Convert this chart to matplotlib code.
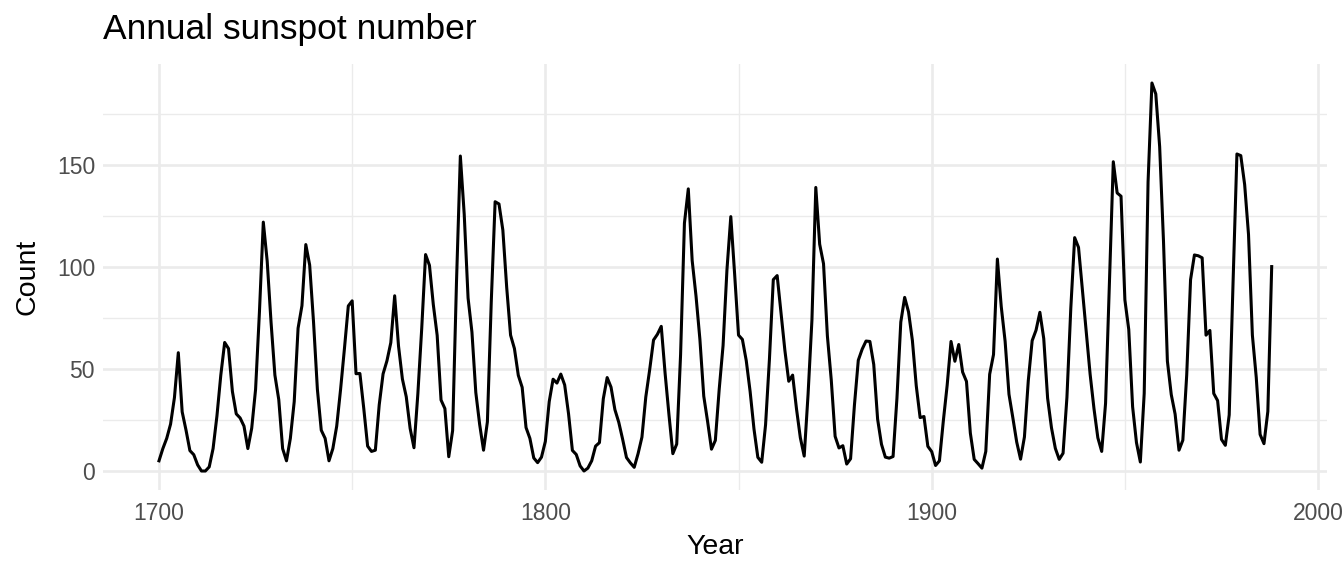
import numpy as np
import matplotlib.pyplot as plt

# Annual sunspot numbers, 1700-1988
years = np.arange(1700, 1989)
sunspots = [
    5, 11, 16, 23, 36, 58, 29, 20, 10, 8,
    3, 0, 0, 2, 11, 27, 47, 63, 60, 39,
    28, 26, 22, 11, 21, 40, 78, 122, 103, 73,
    47, 35, 11, 5, 16, 34, 70, 81, 111, 101,
    73, 40, 20, 16, 5, 11, 22, 40, 60, 80.9,
    83.4, 47.7, 47.8, 30.7, 12.2, 9.6, 10.2, 32.4, 47.6, 54,
    62.9, 85.9, 61.2, 45.1, 36.4, 20.9, 11.4, 37.8, 69.8, 106.1,
    100.8, 81.6, 66.5, 34.8, 30.6, 7, 19.8, 92.5, 154.4, 125.9,
    84.8, 68.1, 38.5, 22.8, 10.2, 24.1, 82.9, 132, 130.9, 118.1,
    89.9, 66.6, 60, 46.9, 41, 21.3, 16, 6.4, 4.1, 6.8,
    14.5, 34, 45, 43.1, 47.5, 42.2, 28.1, 10.1, 8.1, 2.5,
    0, 1.4, 5, 12.2, 13.9, 35.4, 45.8, 41.1, 30.1, 23.9,
    15.6, 6.6, 4, 1.8, 8.5, 16.6, 36.3, 49.6, 64.2, 67,
    70.9, 47.8, 27.5, 8.5, 13.2, 56.9, 121.5, 138.3, 103.2, 85.7,
    64.6, 36.7, 24.2, 10.7, 15, 40.1, 61.5, 98.5, 124.7, 96.3,
    66.6, 64.5, 54.1, 39, 20.6, 6.7, 4.3, 22.7, 54.8, 93.8,
    95.8, 77.2, 59.1, 44, 47, 30.5, 16.3, 7.3, 37.6, 74,
    139, 111.2, 101.6, 66.2, 44.7, 17, 11.3, 12.4, 3.4, 6,
    32.3, 54.3, 59.7, 63.7, 63.5, 52.2, 25.4, 13.1, 6.8, 6.3,
    7.1, 35.6, 73, 85.1, 78, 64, 41.8, 26.2, 26.7, 12.1,
    9.5, 2.7, 5, 24.4, 42, 63.5, 53.8, 62, 48.5, 43.9,
    18.6, 5.7, 3.6, 1.4, 9.6, 47.4, 57.1, 103.9, 80.6, 63.6,
    37.6, 26.1, 14.2, 5.8, 16.7, 44.3, 63.9, 69, 77.8, 64.9,
    35.7, 21.2, 11.1, 5.7, 8.7, 36.1, 79.7, 114.4, 109.6, 88.8,
    67.8, 47.5, 30.6, 16.3, 9.6, 33.2, 92.6, 151.6, 136.3, 134.7,
    83.9, 69.4, 31.5, 13.9, 4.4, 38, 141.7, 190.2, 184.8, 159,
    112.3, 53.9, 37.5, 27.9, 10.2, 15.1, 47, 93.8, 105.9, 105.5,
    104.5, 66.6, 68.9, 38, 34.5, 15.5, 12.6, 27.5, 92.5, 155.4,
    154.6, 140.4, 115.9, 66.6, 45.9, 17.9, 13.4, 29.2, 100.2,
]
x_ticks = [1700, 1800, 1900, 2000]
x_minor = [1750, 1850, 1950]
y_ticks = [0, 50, 100, 150]
y_minor = [25, 75, 125, 175]

plt.rcParams['font.family'] = ['Liberation Sans', 'DejaVu Sans']

fig = plt.figure(figsize=(13.44, 5.76), dpi=100)
ax = fig.add_axes([0.0769, 0.1486, 0.9107, 0.741])

# ggplot-like expansion of 5% on both axes
x_lo, x_hi = years.min(), years.max()
y_lo, y_hi = min(sunspots), max(sunspots)
dx = (x_hi - x_lo) * 0.05
dy = (y_hi - y_lo) * 0.05
ax.set_xlim(x_lo - dx, x_hi + dx)
ax.set_ylim(y_lo - dy, y_hi + dy)

ax.set_xticks(x_ticks)
ax.set_xticks(x_minor, minor=True)
ax.set_yticks(y_ticks)
ax.set_yticks(y_minor, minor=True)

ax.grid(which='major', color='#EBEBEB', linewidth=1.9)
ax.grid(which='minor', color='#EBEBEB', linewidth=1.0)
ax.set_axisbelow(True)

ax.plot(years, sunspots, color='black', linewidth=2.2)

for s in ax.spines.values():
    s.set_visible(False)
ax.tick_params(which='both', length=0, labelsize=16.5, labelcolor='#4D4D4D')
ax.tick_params(axis='x', pad=8)
ax.tick_params(axis='y', pad=6)

ax.set_xlabel('Year', fontsize=20.5, labelpad=7)
ax.set_ylabel('Count', fontsize=20.5, labelpad=12)
ax.set_title('Annual sunspot number', fontsize=25.5, loc='left', pad=18)

plt.savefig('out.png', dpi=100)
